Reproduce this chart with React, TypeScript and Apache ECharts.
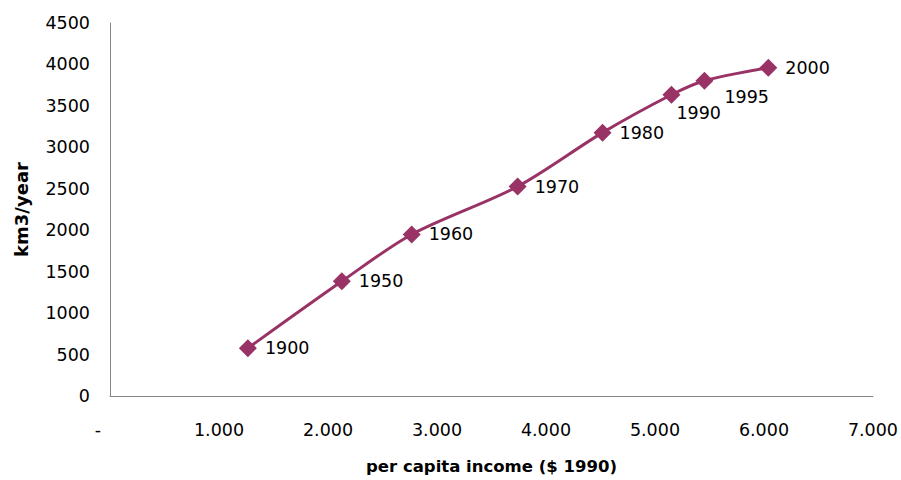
import React, { useEffect, useRef } from "react";
import * as echarts from "echarts";

const years = ["1900", "1950", "1960", "1970", "1980", "1990", "1995", "2000"];
const income = [1265, 2127, 2768, 3740, 4519, 5151, 5454, 6040];
const water = [577, 1384, 1949, 2527, 3177, 3634, 3803, 3959];
const labelOffsets: Record<string, number[]> = {
  "1990": [-12, 18],
  "1995": [3, 16],
};

export default function App() {
  const ref = useRef<HTMLDivElement>(null);
  useEffect(() => {
    if (!ref.current) return;
    const chart = echarts.init(ref.current, null, { renderer: "svg" });
    const font = "DejaVu Sans";
    const data = years.map((y, i) => {
      const off = labelOffsets[y];
      return {
        value: [income[i], water[i]],
        name: y,
        label: off ? { offset: off } : undefined,
      };
    });
    chart.setOption({
      animation: false,
      grid: { left: 110, right: 27, top: 23, bottom: 83 },
      xAxis: {
        type: "value",
        min: 0,
        max: 7000,
        interval: 1000,
        name: "per capita income ($ 1990)",
        nameLocation: "middle",
        nameGap: 62,
        nameTextStyle: { fontFamily: font, fontSize: 16.5, fontWeight: "bold", color: "#000" },
        axisLine: { show: true, lineStyle: { color: "#868686", width: 1 } },
        axisTick: { show: false },
        splitLine: { show: false },
        axisLabel: {
          margin: 25,
          fontFamily: font,
          fontSize: 17.5,
          color: "#000",
          formatter: (v: number) =>
            v === 0 ? "{d|-}" : (v / 1000).toFixed(0) + ".000",
          rich: { d: { fontFamily: font, fontSize: 17.5, color: "#000", padding: [0, 24, 0, 0] } },
        },
      },
      yAxis: {
        type: "value",
        min: 0,
        max: 4500,
        interval: 500,
        name: "km3/year",
        nameLocation: "middle",
        nameGap: 80,
        nameRotate: 90,
        nameTextStyle: { fontFamily: font, fontSize: 18, fontWeight: "bold", color: "#000" },
        axisLine: { show: true, lineStyle: { color: "#868686", width: 1 } },
        axisTick: { show: false },
        splitLine: { show: false },
        axisLabel: {
          margin: 20,
          fontFamily: font,
          fontSize: 17.5,
          color: "#000",
          formatter: (v: number) => String(v),
        },
      },
      series: [
        {
          type: "line",
          data,
          smooth: 0.3,
          symbol: "diamond",
          symbolSize: 18,
          lineStyle: { color: "#993366", width: 3 },
          itemStyle: { color: "#993366" },
          label: {
            show: true,
            position: "right",
            distance: 8,
            formatter: (p: any) => p.name,
            fontFamily: font,
            fontSize: 17.5,
            color: "#000",
          },
        },
      ],
    });
    return () => chart.dispose();
  }, []);
  return (
    <div
      ref={ref}
      style={{ position: "fixed", left: 0, top: 0, width: 901, height: 480, background: "#fff" }}
    />
  );
}
